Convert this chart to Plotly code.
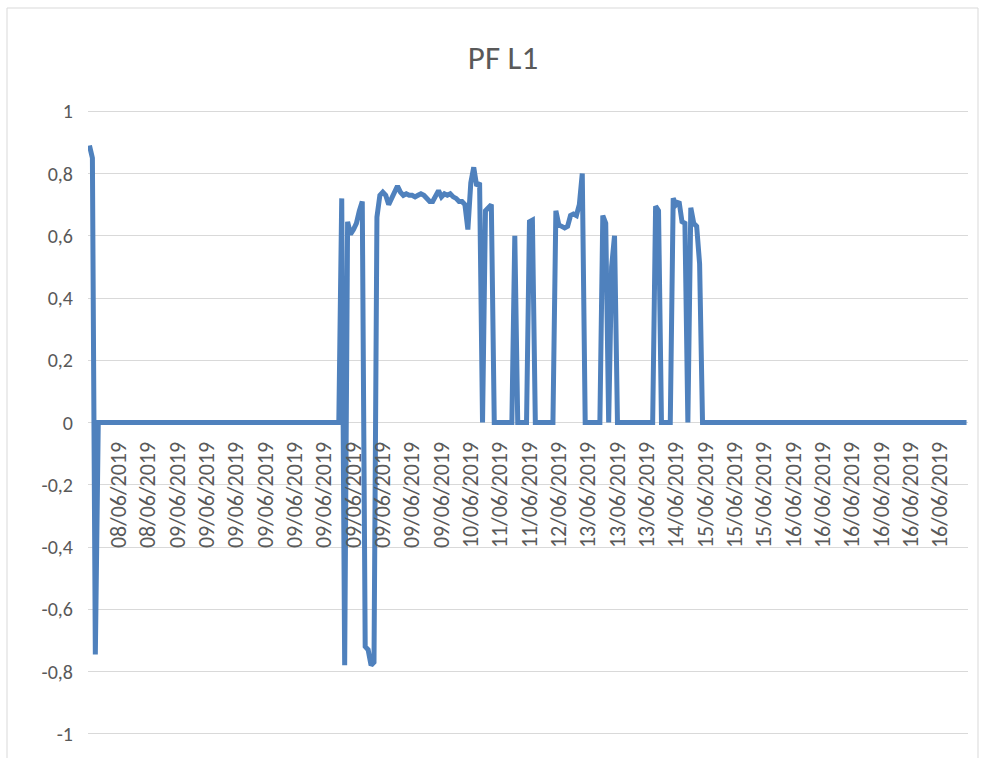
import plotly.graph_objects as go

# PF L1 power-factor samples, one per reading (rows of ten)
pf_l1 = (
    [0.89, 0.85, -0.745, 0, 0, 0, 0, 0, 0, 0]
    + [0, 0, 0, 0, 0, 0, 0, 0, 0, 0]
    + [0, 0, 0, 0, 0, 0, 0, 0, 0, 0]
    + [0, 0, 0, 0, 0, 0, 0, 0, 0, 0]
    + [0, 0, 0, 0, 0, 0, 0, 0, 0, 0]
    + [0, 0, 0, 0, 0, 0, 0, 0, 0, 0]
    + [0, 0, 0, 0, 0, 0, 0, 0, 0, 0]
    + [0, 0, 0, 0, 0, 0, 0, 0, 0, 0]
    + [0, 0, 0, 0, 0, 0, 0.72, -0.78, 0.645, 0.605]
    + [0.62, 0.64, 0.68, 0.71, -0.72, -0.73, -0.78, -0.77, 0.66, 0.73]
    + [0.74, 0.73, 0.70, 0.72, 0.745, 0.76, 0.74, 0.73, 0.735, 0.73]
    + [0.73, 0.725, 0.73, 0.735, 0.73, 0.72, 0.71, 0.71, 0.725, 0.745]
    + [0.725, 0.735, 0.73, 0.735, 0.725, 0.72, 0.71, 0.71, 0.70, 0.62]
    + [0.77, 0.82, 0.76, 0.77, 0, 0.68, 0.69, 0.70, 0, 0]
    + [0, 0, 0, 0, 0, 0.6, 0, 0, 0, 0]
    + [0.645, 0.65, 0, 0, 0, 0, 0, 0, 0, 0.68]
    + [0.635, 0.63, 0.625, 0.63, 0.665, 0.67, 0.665, 0.70, 0.80, 0]
    + [0, 0, 0, 0, 0, 0.665, 0.64, 0, 0.5, 0.6]
    + [0, 0, 0, 0, 0, 0, 0, 0, 0, 0]
    + [0, 0, 0, 0.695, 0.68, 0, 0, 0, 0, 0.72]
    + [0.70, 0.71, 0.645, 0.64, 0, 0.69, 0.64, 0.63, 0.51, 0]
    + [0, 0, 0, 0, 0, 0, 0, 0, 0, 0]
    + [0, 0, 0, 0, 0, 0, 0, 0, 0, 0]
    + [0, 0, 0, 0, 0, 0, 0, 0, 0, 0]
    + [0, 0, 0, 0, 0, 0, 0, 0, 0, 0]
    + [0, 0, 0, 0, 0, 0, 0, 0, 0, 0]
    + [0, 0, 0, 0, 0, 0, 0, 0, 0, 0]
    + [0, 0, 0, 0, 0, 0, 0, 0, 0, 0]
    + [0, 0, 0, 0, 0, 0, 0, 0, 0, 0]
    + [0, 0, 0, 0, 0, 0, 0, 0, 0, 0]
)

# Date label shown for every tenth reading
date_labels = [
    "08/06/2019", "08/06/2019",
    "09/06/2019", "09/06/2019", "09/06/2019", "09/06/2019", "09/06/2019",
    "09/06/2019", "09/06/2019", "09/06/2019", "09/06/2019", "09/06/2019",
    "10/06/2019", "11/06/2019", "11/06/2019", "12/06/2019",
    "13/06/2019", "13/06/2019", "13/06/2019", "14/06/2019",
    "15/06/2019", "15/06/2019", "15/06/2019",
    "16/06/2019", "16/06/2019", "16/06/2019", "16/06/2019", "16/06/2019", "16/06/2019",
]
label_step = 10

y_ticks = [1, 0.8, 0.6, 0.4, 0.2, 0, -0.2, -0.4, -0.6, -0.8, -1]
y_tick_text = ["1", "0,8", "0,6", "0,4", "0,2", "0", "-0,2", "-0,4", "-0,6", "-0,8", "-1"]

sample_index = list(range(len(pf_l1)))
label_positions = [label_step * (k + 1) for k in range(len(date_labels))]

FONT = "Calibri, Carlito, Lato, sans-serif"
TEXT_GREY = "#595959"
GRID_GREY = "#d9d9d9"

fig = go.Figure()
fig.add_trace(
    go.Scatter(
        x=sample_index,
        y=pf_l1,
        mode="lines",
        line=dict(color="#4f81bd", width=5, shape="linear"),
        showlegend=False,
        hoverinfo="y",
    )
)

fig.update_layout(
    width=982,
    height=758,
    margin=dict(l=88, r=14, t=110, b=23),
    paper_bgcolor="white",
    plot_bgcolor="white",
    font=dict(family=FONT, color=TEXT_GREY),
    title=dict(
        text="PF L1",
        font=dict(family=FONT, size=33, color=TEXT_GREY),
        x=503 / 982,
        xref="container",
        xanchor="center",
        y=1 - 57 / 758,
        yref="container",
        yanchor="middle",
    ),
    xaxis=dict(
        range=[-0.5, len(pf_l1) - 0.5],
        tickmode="array",
        tickvals=label_positions,
        ticktext=date_labels,
        tickangle=-90,
        tickfont=dict(family=FONT, size=22, color=TEXT_GREY),
        showgrid=False,
        zeroline=False,
        showline=False,
        ticks="",
        anchor="free",
        position=0.5,
        ticklabelstandoff=14,
    ),
    yaxis=dict(
        range=[-1.004, 1.004],
        tickmode="array",
        tickvals=y_ticks,
        ticktext=y_tick_text,
        tickfont=dict(family=FONT, size=20, color=TEXT_GREY),
        showgrid=True,
        gridcolor=GRID_GREY,
        gridwidth=1,
        zeroline=True,
        zerolinecolor=GRID_GREY,
        zerolinewidth=1,
        showline=False,
        ticks="",
        ticklabelstandoff=14,
    ),
    shapes=[
        # light chart-area border
        dict(
            type="rect",
            xref="paper",
            yref="paper",
            x0=(7 - 88) / 880,
            x1=(978 - 88) / 880,
            y0=(735 - 775) / 625,
            y1=(735 - 8) / 625,
            line=dict(color=GRID_GREY, width=1),
            fillcolor="rgba(0,0,0,0)",
            layer="below",
        )
    ],
)

fig.write_html("out.html")
